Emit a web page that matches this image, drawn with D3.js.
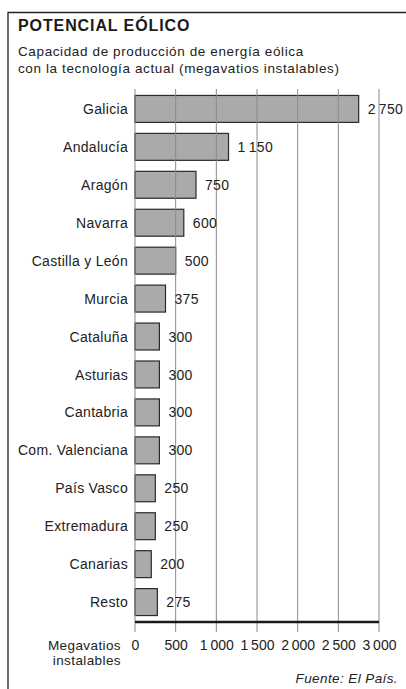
<!DOCTYPE html>
<html>
<head>
<meta charset="utf-8">
<script src="https://cdn.jsdelivr.net/npm/d3@7"></script>
<style>
body { margin: 0; background: #fff; }
svg { font-family: "Liberation Sans", Arial, sans-serif; }
</style>
</head>
<body>
<script>
// datos
const regiones = ["Galicia", "Andalucía", "Aragón", "Navarra", "Castilla y León", "Murcia",
    "Cataluña", "Asturias", "Cantabria", "Com. Valenciana", "País Vasco", "Extremadura",
    "Canarias", "Resto"]
const megavatios = [2750, 1150, 750, 600, 500, 375, 300, 300, 300, 300, 250, 250, 200, 275]
const ticks = [0, 500, 1000, 1500, 2000, 2500, 3000]

const w = 406, h = 689
const fmt = v => v >= 1000 ? String(v).replace(/(\d)(\d{3})$/, "$1\u2009$2") : String(v)

let svg = d3.select("body").append("svg")
    .attr("width", w)
    .attr("height", h)

// marco
svg.append("path")
    .attr("d", "M8," + h + " V12.5 H" + w)
    .attr("fill", "none")
    .attr("stroke", "#222")
    .attr("stroke-width", 1.3)

svg.append("text")
    .attr("x", 18).attr("y", 31)
    .attr("font-size", 16).attr("font-weight", "bold")
    .attr("letter-spacing", 0.9)
    .attr("fill", "#1a1a1a")
    .text("POTENCIAL EÓLICO")

svg.append("text")
    .attr("x", 18).attr("y", 56)
    .attr("font-size", 13.5).attr("fill", "#222")
    .attr("letter-spacing", 0.62)
    .text("Capacidad de producción de energía eólica")
svg.append("text")
    .attr("x", 18).attr("y", 73)
    .attr("font-size", 13.5).attr("fill", "#222")
    .attr("letter-spacing", 0.62)
    .text("con la tecnología actual (megavatios instalables)")

let x = d3.scaleLinear().domain([0, 3000]).range([135, 379])
let y = d3.scaleBand().domain(regiones).range([89, 622]).paddingInner(0.29).paddingOuter(0.17)

// barras
svg.append("g").selectAll("rect")
    .data(megavatios)
    .enter().append("rect")
    .attr("x", x(0))
    .attr("y", (d, i) => y(regiones[i]))
    .attr("width", d => x(d) - x(0))
    .attr("height", y.bandwidth())
    .attr("fill", "#aaaaaa")
    .attr("stroke", "#2a2a2a")
    .attr("stroke-width", 1.2)

// rejilla
svg.append("g").selectAll("line")
    .data(ticks)
    .enter().append("line")
    .attr("x1", d => x(d)).attr("x2", d => x(d))
    .attr("y1", 89).attr("y2", 632)
    .attr("stroke", "#8a8a8a")
    .attr("stroke-width", 1)

// etiquetas de regiones
svg.append("g").selectAll("text")
    .data(regiones)
    .enter().append("text")
    .attr("x", 128)
    .attr("y", d => y(d) + y.bandwidth() / 2)
    .attr("dy", "0.36em")
    .attr("text-anchor", "end")
    .attr("font-size", 14)
    .attr("letter-spacing", 0.3)
    .attr("fill", "#222")
    .text(d => d)

// valores
svg.append("g").selectAll("text")
    .data(megavatios)
    .enter().append("text")
    .attr("x", d => x(d) + 9)
    .attr("y", (d, i) => y(regiones[i]) + y.bandwidth() / 2)
    .attr("dy", "0.36em")
    .attr("font-size", 14)
    .attr("letter-spacing", 0.3)
    .attr("fill", "#222")
    .text(d => fmt(d))

// eje
let axis = d3.axisBottom(x).tickValues(ticks).tickSize(0).tickFormat(fmt)
let gx = svg.append("g")
    .attr("transform", "translate(0,622)")
    .call(axis)
gx.select(".domain").remove()
gx.selectAll("text")
    .attr("font-size", 14)
    .attr("font-family", "Liberation Sans, Arial, sans-serif")
    .attr("fill", "#222")
    .attr("dy", 0)
    .attr("y", 28)

svg.append("line")
    .attr("x1", x(0)).attr("x2", x(3000))
    .attr("y1", 622).attr("y2", 622)
    .attr("stroke", "#1a1a1a")
    .attr("stroke-width", 2.6)

svg.append("text")
    .attr("x", 121).attr("y", 650)
    .attr("text-anchor", "end")
    .attr("font-size", 13.5).attr("letter-spacing", 0.4)
    .attr("fill", "#222")
    .text("Megavatios")
svg.append("text")
    .attr("x", 121).attr("y", 665)
    .attr("text-anchor", "end")
    .attr("font-size", 13.5).attr("letter-spacing", 0.4)
    .attr("fill", "#222")
    .text("instalables")

svg.append("text")
    .attr("x", 398).attr("y", 683)
    .attr("text-anchor", "end")
    .attr("font-size", 13.5).attr("font-style", "italic")
    .attr("letter-spacing", 0.4)
    .attr("fill", "#222")
    .text("Fuente: El País.")
</script>
</body>
</html>
